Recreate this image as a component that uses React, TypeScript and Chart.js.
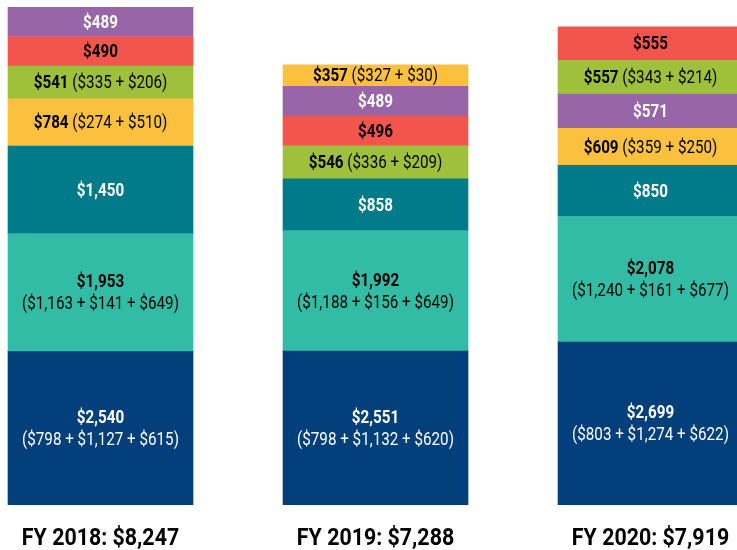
import React, { useEffect, useRef } from 'react';
import { Chart, registerables } from 'chart.js';

Chart.register(...registerables);

// ---------- data ----------
const YEARS = ['FY 2018', 'FY 2019', 'FY 2020'];
const TOTALS = [8247, 7288, 7919];

const NAVY = [2540, 2551, 2699];
const NAVY_PARTS = ['$798 + $1,127 + $615', '$798 + $1,132 + $620', '$803 + $1,274 + $622'];
const TEAL = [1953, 1992, 2078];
const TEAL_PARTS = ['$1,163 + $141 + $649', '$1,188 + $156 + $649', '$1,240 + $161 + $677'];
const DARK_TEAL = [1450, 858, 850];
const YELLOW = [784, 357, 609];
const YELLOW_PARTS = ['$274 + $510', '$327 + $30', '$359 + $250'];
const GREEN = [541, 546, 557];
const GREEN_PARTS = ['$335 + $206', '$336 + $209', '$343 + $214'];
const RED = [490, 496, 555];
const PURPLE = [489, 489, 571];

// stacking order, bottom -> top, for each year
const STACK_ORDER = [
  ['navy', 'teal', 'darkTeal', 'yellow', 'green', 'red', 'purple'],
  ['navy', 'teal', 'darkTeal', 'green', 'red', 'purple', 'yellow'],
  ['navy', 'teal', 'darkTeal', 'yellow', 'purple', 'green', 'red'],
];

// ---------- styles ----------
type Series = { values: number[]; parts?: string[]; color: string; text: string; twoLine?: boolean };
const SERIES: Record<string, Series> = {
  navy: { values: NAVY, parts: NAVY_PARTS, color: '#023F7B', text: '#FFFFFF', twoLine: true },
  teal: { values: TEAL, parts: TEAL_PARTS, color: '#32BCA6', text: '#000000', twoLine: true },
  darkTeal: { values: DARK_TEAL, color: '#017B89', text: '#FFFFFF' },
  yellow: { values: YELLOW, parts: YELLOW_PARTS, color: '#FBC03D', text: '#000000' },
  green: { values: GREEN, parts: GREEN_PARTS, color: '#9EC03A', text: '#000000' },
  red: { values: RED, color: '#F1554C', text: '#000000' },
  purple: { values: PURPLE, color: '#9965A9', text: '#FFFFFF' },
};

const FAMILY = "Roboto, 'Liberation Sans', sans-serif";
const BOLD = `bold 19px ${FAMILY}`;
const REG = `19px ${FAMILY}`;
const SEG_SX = 0.8; // horizontal condensing of segment text
const AXIS_FONT = `bold 23px ${FAMILY}`;
const AXIS_SX = 0.93;

const fmt = (v: number) => '$' + v.toLocaleString('en-US');

function measure(ctx: CanvasRenderingContext2D, text: string, font: string, sx: number) {
  ctx.font = font;
  return ctx.measureText(text).width * sx;
}

function drawCondensed(ctx: CanvasRenderingContext2D, text: string, x: number, y: number, font: string, sx: number) {
  ctx.save();
  ctx.font = font;
  ctx.textAlign = 'left';
  ctx.textBaseline = 'middle';
  ctx.translate(x, y);
  ctx.scale(sx, 1);
  ctx.fillText(text, 0, 0);
  ctx.restore();
}

function drawCentered(ctx: CanvasRenderingContext2D, text: string, cx: number, y: number, font: string, sx: number) {
  const w = measure(ctx, text, font, sx);
  drawCondensed(ctx, text, cx - w / 2, y, font, sx);
}

const segmentLabels = {
  id: 'segmentLabels',
  afterDatasetsDraw(chart: any) {
    const ctx: CanvasRenderingContext2D = chart.ctx;
    chart.data.datasets.forEach((ds: any, di: number) => {
      const meta = chart.getDatasetMeta(di);
      meta.data.forEach((el: any, j: number) => {
        const s = SERIES[ds.keys[j]];
        const { x, y, base } = el.getProps(['x', 'y', 'base'], true);
        const cy = (y + base) / 2 + 1;
        const main = fmt(s.values[j]);
        const detail = s.parts ? `(${s.parts[j]})` : null;
        ctx.save();
        ctx.fillStyle = s.text;
        if (detail && s.twoLine) {
          drawCentered(ctx, main, x, cy - 11, BOLD, SEG_SX);
          drawCentered(ctx, detail, x, cy + 11, REG, SEG_SX);
        } else if (detail) {
          const w1 = measure(ctx, main, BOLD, SEG_SX);
          const gap = measure(ctx, ' ', REG, SEG_SX);
          const w2 = measure(ctx, detail, REG, SEG_SX);
          const left = x - (w1 + gap + w2) / 2;
          drawCondensed(ctx, main, left, cy, BOLD, SEG_SX);
          drawCondensed(ctx, detail, left + w1 + gap, cy, REG, SEG_SX);
        } else {
          drawCentered(ctx, main, x, cy, BOLD, SEG_SX);
        }
        ctx.restore();
      });
    });

    // category labels under the bars
    const xs = chart.scales.x;
    const bottom = chart.chartArea.bottom;
    ctx.save();
    ctx.fillStyle = '#000000';
    YEARS.forEach((yr, i) => {
      drawCentered(ctx, `${yr}: ${fmt(TOTALS[i])}`, xs.getPixelForValue(i), bottom + 34, AXIS_FONT, AXIS_SX);
    });
    ctx.restore();
  },
};

export default function App() {
  const ref = useRef<HTMLCanvasElement | null>(null);

  useEffect(() => {
    if (!ref.current) return;
    const datasets = STACK_ORDER[0].map((_, layer) => ({
      label: `layer ${layer}`,
      keys: YEARS.map((__, j) => STACK_ORDER[j][layer]),
      data: YEARS.map((__, j) => ({ x: j, y: SERIES[STACK_ORDER[j][layer]].values[j] })),
      backgroundColor: YEARS.map((__, j) => SERIES[STACK_ORDER[j][layer]].color),
      borderWidth: 0,
      barThickness: 185,
    }));

    const chart = new Chart(ref.current, {
      type: 'bar',
      data: { datasets } as any,
      options: {
        animation: false,
        responsive: false,
        maintainAspectRatio: false,
        layout: { padding: { top: 7, left: 0, right: 0, bottom: 45 } },
        plugins: { legend: { display: false }, tooltip: { enabled: false } },
        scales: {
          x: {
            type: 'linear',
            stacked: true,
            offset: false,
            min: -0.3655,
            max: 2.3145,
            grid: { display: false, drawTicks: false },
            border: { display: false },
            ticks: { display: false },
          },
          y: { stacked: true, display: false, min: 0, max: Math.max(...TOTALS) },
        },
      } as any,
      plugins: [segmentLabels],
    });
    return () => chart.destroy();
  }, []);

  return (
    <div style={{ position: 'fixed', left: 0, top: 0, width: 737, height: 550, overflow: 'hidden', background: '#fff' }}>
      <canvas ref={ref} width={737} height={550} style={{ display: 'block', width: 737, height: 550 }} />
    </div>
  );
}
